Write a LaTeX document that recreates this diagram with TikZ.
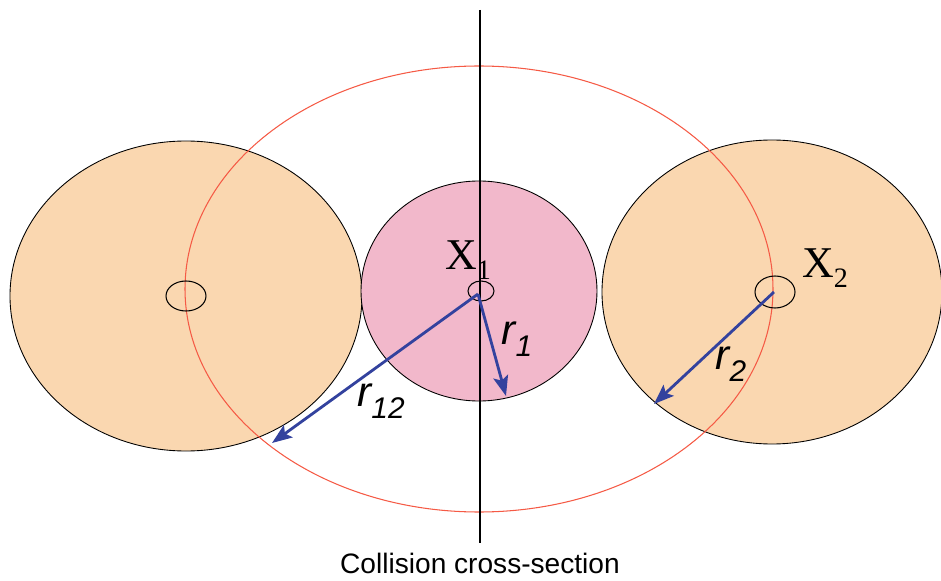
\documentclass[tikz,border=0pt]{standalone}
\usepackage{fontspec}
\setmainfont{Liberation Serif}
\setsansfont{Liberation Sans}
\usepackage{tikz}
\usetikzlibrary{arrows.meta, calc}

\definecolor{peach}{HTML}{FAD7B0}
\definecolor{rosy}{HTML}{F2B8CB}
\definecolor{crossred}{HTML}{F55A45}
\definecolor{arrowblue}{HTML}{33429E}

% point label X with subscript, and radius label r with subscript
\newcommand{\ptlabel}[1]{{\fontsize{25}{25}\selectfont X}{\fontsize{16}{16}\selectfont\raisebox{-6pt}{#1}}}
\newcommand{\radlabel}[1]{{\sffamily\itshape\fontsize{24}{24}\selectfont r}{\sffamily\itshape\fontsize{17}{17}\selectfont\raisebox{-7pt}{#1}}}

\begin{document}
\begin{tikzpicture}[
      x=0.02cm, y=-0.02cm,
      disk/.style={draw=black, line width=0.5pt},
      marker/.style={draw=black, line width=0.6pt},
      arrow/.style={-{Stealth[length=4mm, width=3mm, inset=0.8mm]}, draw=arrowblue, line width=1.6pt},
      lbl/.style={inner sep=0pt}
    ]
      \useasboundingbox (0,0) rectangle (941,581);

      \coordinate (cL) at (186,296);
      \coordinate (c1) at (479,291);
      \coordinate (c2) at (772,292);
      \coordinate (cX) at (479,289);

      % the three spheres
      \fill[peach, disk] (cL) ellipse [x radius=176, y radius=155];
      \fill[peach, disk] (c2) ellipse [x radius=170, y radius=152];
      \fill[rosy, disk] (c1) ellipse [x radius=118, y radius=110];

      % collision cross-section
      \draw[crossred, line width=0.6pt] (cX) ellipse [x radius=294, y radius=223];

      % markers
      \draw[marker] (cL) ellipse [x radius=20, y radius=15];
      \draw[marker] (481,291) ellipse [x radius=13, y radius=10];
      \draw[marker] (775,292) ellipse [x radius=20, y radius=16];

      % axis
      \coordinate (top) at (480,10);
      \coordinate (bot) at (480,543);
      \draw[black, line width=0.6pt] (top) -- (bot);

      % radii
      \coordinate (o1) at (478,294);
      \coordinate (o2) at (774,292);
      \coordinate (e12) at (272,443);
      \coordinate (e1) at (506,396);
      \coordinate (e2) at (654,404);
      \draw[arrow] (o1) -- (e12);
      \draw[arrow] (o1) -- (e1);
      \draw[arrow] (o2) -- (e2);

      \node[lbl] (x1) at (468,260) {\ptlabel{1}};
      \node[lbl] (x2) at (825,268) {\ptlabel{2}};
      \node[lbl] (r1) at (517,339) {\radlabel{1}};
      \node[lbl] (r12) at (381,401) {\radlabel{12}};
      \node[lbl] (r2) at (731,364) {\radlabel{2}};

      \node[lbl, font=\sffamily\fontsize{16}{16}\selectfont] (cap) at (480,563) {Collision cross-section};
    \end{tikzpicture}
\end{document}
